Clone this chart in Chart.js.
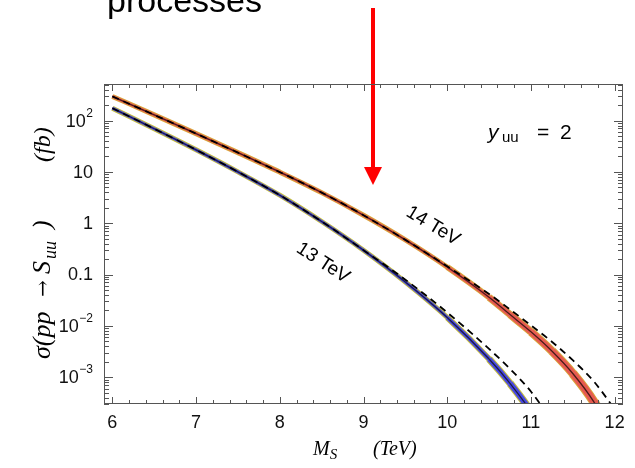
<!DOCTYPE html>
<html>
<head>
<meta charset="utf-8">
<script src="https://cdn.jsdelivr.net/npm/chart.js@4.4.1/dist/chart.umd.min.js"></script>
<style>html,body{margin:0;background:#fff}</style>
</head>
<body>
<canvas id="c" width="635" height="468"></canvas>
<script>
// sigma(pp -> S_uu) in fb vs scalar mass M_S in TeV, y_uu = 2
const masses       = [6, 6.5, 7, 7.5, 8, 8.5, 9, 9.5, 10, 10.5, 10.75, 11, 11.25, 11.5, 11.75, 12];
const xsec14       = [295, 128.8, 55.6, 23.7, 9.89, 3.94, 1.43, 0.473, 0.1396, 0.0359, 0.0166, 0.00767, 0.00324, 0.00118, 0.000333, 0.000059];
const xsec13       = [174, 69.2, 26.9, 10.0, 3.51, 1.08, 0.298, 0.0716, 0.0146, 0.00226, 0.00076, 0.000214, 0.000045, null, null, null];
const xsec14Dashed = [295, 128.8, 55.6, 23.7, 9.89, 3.94, 1.43, 0.473, 0.1445, 0.0417, 0.0209, 0.01023, 0.0049, 0.00214, 0.000832, 0.00024];
const xsec13Dashed = [174, 69.2, 26.9, 10.0, 3.51, 1.08, 0.298, 0.0794, 0.0182, 0.00355, 0.00145, 0.000525, 0.000141, null, null, null];

const xTickVals = [6, 7, 8, 9, 10, 11, 12];
const yTickVals = [1e-3, 1e-2, 0.1, 1, 10, 100];
const yTickLabels = [['10', '\u22123'], ['10', '\u22122'], ['0.1', ''], ['1', ''], ['10', ''], ['10', '2']];

const pts = arr => masses.map((m, i) => ({ x: m, y: arr[i] })).filter(p => p.y != null);

// band gets wider in the tail
const bandW = extra => ctx => {
  const m = ctx.p0.parsed.x;
  return extra + (m > 9.5 ? (m - 9.5) * 2.2 : 0);
};

function curve(data, color, width, order, opts) {
  return Object.assign({
    data: pts(data), borderColor: color, borderWidth: width, order,
    pointRadius: 0, fill: false, cubicInterpolationMode: 'monotone', clip: 0,
  }, opts || {});
}

const datasets = [
  curve(xsec14Dashed, '#000', 1.8, 0, { borderDash: [7, 5] }),
  curve(xsec13Dashed, '#000', 1.8, 0, { borderDash: [7, 5] }),
  curve(xsec14, '#4a1a1a', 1.3, 1),
  curve(xsec13, '#1c1c44', 1.3, 1),
  curve(xsec14, '#e65a50', 3, 2, { segment: { borderWidth: bandW(3) } }),
  curve(xsec13, '#4848e0', 3, 2, { segment: { borderWidth: bandW(3) } }),
  curve(xsec14, '#d9a43a', 5, 3, { segment: { borderWidth: bandW(5) } }),
  curve(xsec13, '#c2bb3e', 5, 3, { segment: { borderWidth: bandW(5) } }),
];

const decor = {
  id: 'decor',
  afterDraw(chart) {
    const { ctx, chartArea: a, scales: { x, y } } = chart;
    ctx.save();

    // slide title remnant + red arrow
    ctx.fillStyle = '#000';
    ctx.font = '34px "Liberation Sans", Arial, sans-serif';
    ctx.textBaseline = 'alphabetic';
    ctx.textAlign = 'left';
    ctx.fillText('processes', 107, 12);
    ctx.fillStyle = '#ff0000';
    ctx.fillRect(371, 8, 4, 161);
    ctx.beginPath();
    ctx.moveTo(364, 167); ctx.lineTo(382, 167); ctx.lineTo(373, 185);
    ctx.closePath(); ctx.fill();

    // frame
    ctx.strokeStyle = '#555';
    ctx.lineWidth = 1;
    ctx.strokeRect(a.left + 0.5, a.top + 0.5, a.right - a.left - 1, a.bottom - a.top - 1);

    // x ticks, inward on bottom and top
    ctx.beginPath();
    for (let k = 0; k <= 30; k++) {
      const v = 6 + k * 0.2;
      const px = Math.round(x.getPixelForValue(v)) + 0.5;
      const len = k % 5 === 0 ? 7 : 4;
      ctx.moveTo(px, a.bottom); ctx.lineTo(px, a.bottom - len);
      ctx.moveTo(px, a.top); ctx.lineTo(px, a.top + len);
    }
    // y ticks, inward on left and right
    for (let e = -4; e <= 2; e++) {
      for (let m = 1; m <= 9; m++) {
        const v = m * Math.pow(10, e);
        if (v < y.min || v > y.max) continue;
        const py = Math.round(y.getPixelForValue(v)) + 0.5;
        const len = m === 1 ? 9 : 5;
        ctx.moveTo(a.left, py); ctx.lineTo(a.left + len, py);
        ctx.moveTo(a.right, py); ctx.lineTo(a.right - len, py);
      }
    }
    ctx.stroke();

    // tick labels
    ctx.fillStyle = '#111';
    ctx.font = '18px "Liberation Sans", Arial, sans-serif';
    ctx.textAlign = 'center';
    ctx.textBaseline = 'middle';
    xTickVals.forEach(v => ctx.fillText(String(v), x.getPixelForValue(v), 423));

    yTickVals.forEach((v, i) => {
      const py = y.getPixelForValue(v);
      const [base, exp] = yTickLabels[i];
      let right = 93;
      ctx.textAlign = 'right';
      if (exp) {
        ctx.font = '12px "Liberation Sans", Arial, sans-serif';
        ctx.fillText(exp, right, py - 7);
        right -= ctx.measureText(exp).width + 0.5;
      }
      ctx.font = '18px "Liberation Sans", Arial, sans-serif';
      ctx.fillText(base, right, py + 1);
    });

    // x title: M_S (TeV)
    const serif = 'italic 20px "Liberation Serif", "Times New Roman", serif';
    const serifBig = 'italic 26px "Liberation Serif", "Times New Roman", serif';
    const serifFb = 'italic 24px "Liberation Serif", "Times New Roman", serif';
    const serifSub = 'italic 15px "Liberation Serif", "Times New Roman", serif';
    const serifSubBig = 'italic 18px "Liberation Serif", "Times New Roman", serif';
    const arrowFont = '20px "DejaVu Serif", serif';
    ctx.fillStyle = '#000';
    ctx.textAlign = 'left';
    ctx.textBaseline = 'alphabetic';
    ctx.font = serif;
    ctx.fillText('M', 313, 455);
    let w = ctx.measureText('M').width;
    ctx.font = serifSub;
    ctx.fillText('S', 313 + w, 459);
    ctx.font = serif;
    ctx.fillText('(TeV)', 373, 455);

    // y title: sigma(pp -> S_uu )   (fb), pieces placed along the rotated axis
    ctx.save();
    ctx.translate(50, 0);
    ctx.rotate(-Math.PI / 2);
    [
      ['\u03c3(pp', 359, serifBig, 0],
      ['\u2192', 297, arrowFont, -1],
      ['S', 274, serifBig, 0],
      ['uu', 259, serifSubBig, 6],
      [')', 229, serifBig, 0],
      ['(fb)', 162, serifFb, 0],
    ].forEach(([t, start, font, dy]) => {
      ctx.font = font;
      ctx.fillText(t, -start, dy);
    });
    ctx.restore();

    // y_uu = 2
    ctx.font = 'italic 21px "Liberation Sans", Arial, sans-serif';
    ctx.fillText('y', 488, 139);
    ctx.font = '15px "Liberation Sans", Arial, sans-serif';
    ctx.fillText('uu', 502, 142);
    ctx.font = '21px "Liberation Sans", Arial, sans-serif';
    ctx.fillText('=', 537, 139);
    ctx.fillText('2', 560, 139);

    // energy labels along the curves
    ctx.font = '19px "Liberation Sans", Arial, sans-serif';
    ctx.textAlign = 'center';
    ctx.textBaseline = 'middle';
    [['14 TeV', 433, 226, 31], ['13 TeV', 323, 263, 33]].forEach(([t, lx, ly, ang]) => {
      ctx.save();
      ctx.translate(lx, ly);
      ctx.rotate(ang * Math.PI / 180);
      ctx.fillText(t, 0, 0);
      ctx.restore();
    });

    ctx.restore();
  }
};

new Chart(document.getElementById('c'), {
  type: 'line',
  data: { datasets },
  options: {
    responsive: false,
    animation: false,
    devicePixelRatio: 1,
    layout: { padding: { left: 104, right: 12, top: 84, bottom: 64 } },
    plugins: { legend: { display: false }, tooltip: { enabled: false } },
    scales: {
      x: { type: 'linear', min: 5.9, max: 12.1, display: false },
      y: { type: 'logarithmic', min: 3e-4, max: 515, display: false },
    },
  },
  plugins: [decor],
});
</script>
</body>
</html>
